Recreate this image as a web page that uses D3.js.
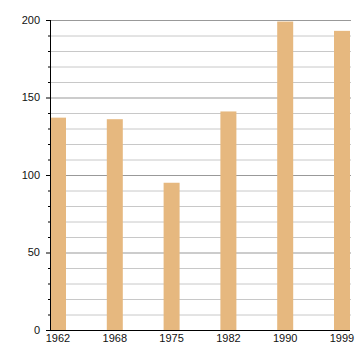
<!DOCTYPE html>
<html>
<head>
<meta charset="utf-8">
<script src="https://cdn.jsdelivr.net/npm/d3@7"></script>
<style>
  body { margin: 0; background: #fff; }
  text { font-family: "Liberation Sans", Arial, sans-serif; font-size: 11px; fill: #111; }
</style>
</head>
<body>
<div id="chart"></div>
<script>
const years = ["1962", "1968", "1975", "1982", "1990", "1999"];
const values = [137, 136, 95, 141, 199, 193];
const majorTicks = [0, 50, 100, 150, 200];

const width = 360;
const height = 360;
const margin = { top: 20, right: 10, bottom: 30, left: 50 };
const barWidth = 16;

const svg = d3.select("#chart").append("svg")
  .attr("width", width)
  .attr("height", height);

const y = d3.scaleLinear()
  .domain([0, 200])
  .range([height - margin.bottom, margin.top]);

const x = d3.scalePoint()
  .domain(years)
  .range([margin.left + barWidth / 2, width - margin.right - barWidth / 2]);

const minorTicks = d3.range(0, 201, 10).filter((d) => d % 50 !== 0);

// grid
svg.append("g")
  .selectAll("line")
  .data(minorTicks)
  .enter()
  .append("line")
  .attr("x1", margin.left)
  .attr("x2", width - margin.right + 1)
  .attr("y1", (d) => y(d) + 0.5)
  .attr("y2", (d) => y(d) + 0.5)
  .attr("stroke", "#c8c8c8");

svg.append("g")
  .selectAll("line")
  .data(majorTicks.filter((d) => d > 0))
  .enter()
  .append("line")
  .attr("x1", margin.left)
  .attr("x2", width - margin.right + 1)
  .attr("y1", (d) => y(d) + 0.5)
  .attr("y2", (d) => y(d) + 0.5)
  .attr("stroke", "#999");

// bars
svg.append("g")
  .selectAll("rect")
  .data(values)
  .enter()
  .append("rect")
  .attr("x", (d, i) => x(years[i]) - barWidth / 2)
  .attr("y", (d) => y(d))
  .attr("width", barWidth)
  .attr("height", (d) => y(0) - y(d))
  .attr("fill", "#e6b87f");

// y axis
const yAxis = svg.append("g")
  .attr("transform", `translate(${margin.left},0)`);

yAxis.selectAll(".minor")
  .data(minorTicks)
  .enter()
  .append("line")
  .attr("x1", -2)
  .attr("x2", 0)
  .attr("y1", (d) => y(d) + 0.5)
  .attr("y2", (d) => y(d) + 0.5)
  .attr("stroke", "#000");

yAxis.selectAll(".major")
  .data(majorTicks)
  .enter()
  .append("line")
  .attr("x1", -4)
  .attr("x2", 0)
  .attr("y1", (d) => y(d) + 0.5)
  .attr("y2", (d) => y(d) + 0.5)
  .attr("stroke", "#000");

yAxis.selectAll("text")
  .data(majorTicks)
  .enter()
  .append("text")
  .attr("x", -10)
  .attr("y", (d) => y(d))
  .attr("dy", "0.35em")
  .attr("text-anchor", "end")
  .text((d) => d);

yAxis.append("line")
  .attr("x1", 0.5)
  .attr("x2", 0.5)
  .attr("y1", margin.top)
  .attr("y2", y(0) + 1)
  .attr("stroke", "#000");

// x axis
const xAxis = svg.append("g");

xAxis.append("line")
  .attr("x1", margin.left)
  .attr("x2", width - margin.right)
  .attr("y1", y(0) + 0.5)
  .attr("y2", y(0) + 0.5)
  .attr("stroke", "#000");

xAxis.selectAll("text")
  .data(years)
  .enter()
  .append("text")
  .attr("x", (d) => x(d))
  .attr("y", y(0) + 12)
  .attr("text-anchor", "middle")
  .text((d) => d);
</script>
</body>
</html>
